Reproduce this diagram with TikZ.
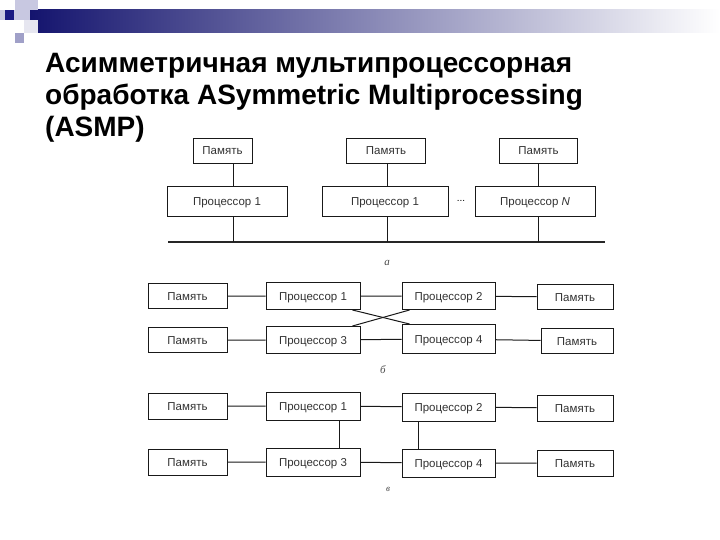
\documentclass[tikz,border=0pt]{standalone}
\usepackage{fontspec}
\setmainfont{Liberation Sans}
\newfontfamily\serifit{Liberation Serif}
\definecolor{navy}{RGB}{20,20,110}
\definecolor{sqA}{RGB}{200,200,225}
\definecolor{sqB}{RGB}{160,160,200}
\definecolor{sqC}{RGB}{230,230,240}
\definecolor{sqD}{RGB}{25,25,130}
\newcommand{\bt}[1]{\smash{\raisebox{-4pt}{#1}}}
\begin{document}
\begin{tikzpicture}[x=1pt,y=-1pt,
  bx/.style={draw=black!90,line width=1pt,inner sep=0pt,text=black!80,font=\fontsize{11.5}{13}\selectfont},
  ln/.style={draw=black!90,line width=1pt},
  lab/.style={font=\serifit\itshape\fontsize{11}{12}\selectfont,text=black!70}]
\useasboundingbox (0,0) rectangle (720,540);
\fill[white] (0,0) rectangle (720,540);
% decoration
\shade[left color=navy,right color=white] (30,10) rectangle (720,33);
\fill[sqA] (15,0) rectangle (38,10);
\fill[sqA] (0,10) rectangle (30,20);
\fill[sqB] (15,33) rectangle (24,43);
\fill[sqC] (24,20) rectangle (38,33);
\fill[sqD] (5,10) rectangle (14,20);
% title
\node[anchor=north west,align=left,font=\bfseries\fontsize{28}{32}\selectfont,inner sep=0pt] (title) at (45,53)
 {Асимметричная мультипроцессорная\\обработка ASymmetric Multiprocessing\\(ASMP)};
% diagram a
\node[bx,minimum width=59,minimum height=25] (m1) at (222.5,151) {\bt{Память}};
\node[bx,minimum width=79,minimum height=25] (m2) at (386,151) {\bt{Память}};
\node[bx,minimum width=78,minimum height=25] (m3) at (538.5,151) {\bt{Память}};
\node[bx,minimum width=120,minimum height=30] (p1) at (227,202) {\bt{Процессор 1}};
\node[bx,minimum width=126,minimum height=30] (p2) at (385,202) {\bt{Процессор 1}};
\node[bx,minimum width=120,minimum height=30] (pN) at (535,202) {\bt{Процессор \textit{N}}};
\node[font=\fontsize{10}{12}\selectfont] (dots) at (461,201) {...};
\coordinate (b1) at (233,242); \coordinate (b2) at (387,242); \coordinate (b3) at (538,242);
\coordinate (bl) at (168,242); \coordinate (br) at (605,242);
\draw[line width=2.4pt,black!85] (bl) -- (br);
\draw[ln] (m1.south -| b1) -- (p1.north -| b1) (p1.south -| b1) -- (b1);
\draw[ln] (m2.south -| b2) -- (p2.north -| b2) (p2.south -| b2) -- (b2);
\draw[ln] (m3.south -| b3) -- (pN.north -| b3) (pN.south -| b3) -- (b3);
\node[lab] (la) at (387,263) {а};
% diagram b
\node[bx,minimum width=79,minimum height=25] (bm1) at (187.5,296) {\bt{Память}};
\node[bx,minimum width=94,minimum height=27] (bp1) at (313,296) {\bt{Процессор 1}};
\node[bx,minimum width=93,minimum height=27] (bp2) at (448.5,296) {\bt{Процессор 2}};
\node[bx,minimum width=76,minimum height=25] (bm2) at (575,297) {\bt{Память}};
\node[bx,minimum width=79,minimum height=25] (bm3) at (187.5,340) {\bt{Память}};
\node[bx,minimum width=94,minimum height=27] (bp3) at (313,340) {\bt{Процессор 3}};
\node[bx,minimum width=93,minimum height=29] (bp4) at (448.5,339) {\bt{Процессор 4}};
\node[bx,minimum width=72,minimum height=25] (bm4) at (577,341) {\bt{Память}};
\draw[ln] (bm1) -- (bp1) (bp1) -- (bp2) (bp2) -- (bm2);
\draw[ln] (bm3) -- (bp3) (bp3) -- (bp4) (bp4) -- (bm4);
\draw[ln] ([xshift=-8]bp1.south east) -- ([xshift=8]bp4.north west);
\draw[ln] ([xshift=8]bp2.south west) -- ([xshift=-8]bp3.north east);
\node[lab] (lb) at (383,370) {б};
% diagram v
\node[bx,minimum width=79,minimum height=26] (vm1) at (187.5,406) {\bt{Память}};
\node[bx,minimum width=94,minimum height=28] (vp1) at (313,406) {\bt{Процессор 1}};
\node[bx,minimum width=93,minimum height=28] (vp2) at (448.5,407) {\bt{Процессор 2}};
\node[bx,minimum width=76,minimum height=26] (vm2) at (575,408) {\bt{Память}};
\node[bx,minimum width=79,minimum height=26] (vm3) at (187.5,462) {\bt{Память}};
\node[bx,minimum width=94,minimum height=28] (vp3) at (313,462) {\bt{Процессор 3}};
\node[bx,minimum width=93,minimum height=28] (vp4) at (448.5,463) {\bt{Процессор 4}};
\node[bx,minimum width=76,minimum height=26] (vm4) at (575,463) {\bt{Память}};
\draw[ln] (vm1) -- (vp1) (vp1) -- (vp2) (vp2) -- (vm2);
\draw[ln] (vm3) -- (vp3) (vp3) -- (vp4) (vp4) -- (vm4);
\coordinate (c1) at (339,0); \coordinate (c2) at (418,0);
\draw[ln] (vp1.south -| c1) -- (vp3.north -| c1);
\draw[ln] (vp2.south -| c2) -- (vp4.north -| c2);
\node[lab,font=\serifit\itshape\fontsize{9}{10}\selectfont] (lv) at (388,489) {в};
\end{tikzpicture}
\end{document}
